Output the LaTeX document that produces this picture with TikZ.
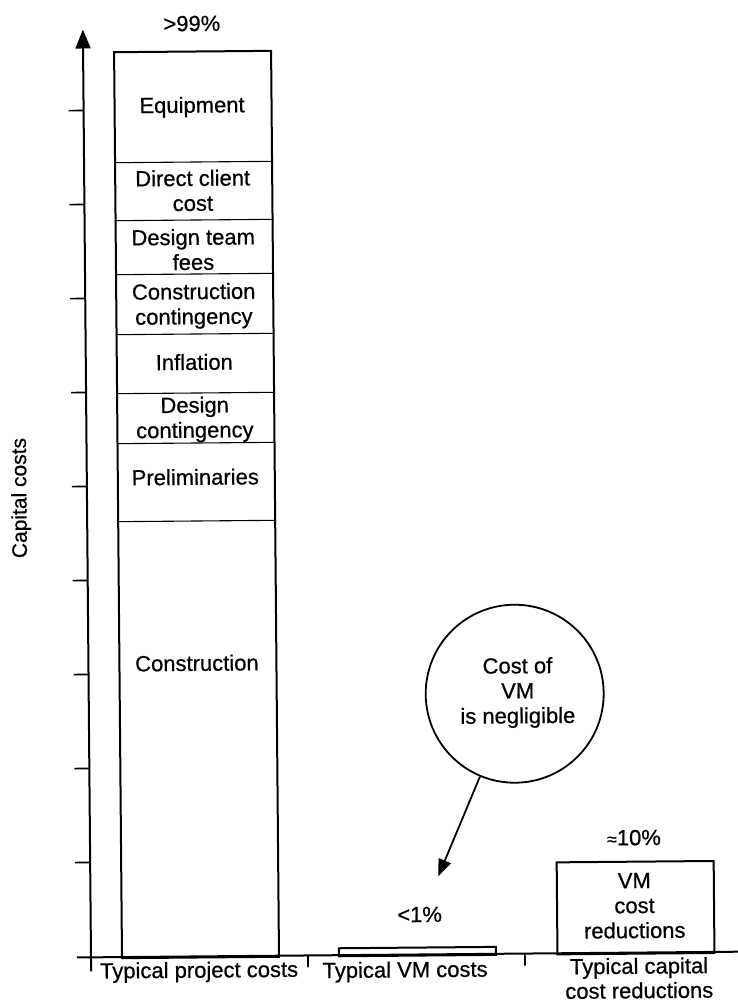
\documentclass[tikz,border=0pt]{standalone}
\usepackage{fontspec}
\setmainfont{Liberation Sans}[FakeBold=0.6]
\usetikzlibrary{arrows.meta}
\begin{document}
\begin{tikzpicture}[x=1pt,y=-1pt,
  axisline/.style={line width=2pt},
  barbox/.style={draw, line width=2pt, rectangle, inner sep=0pt, anchor=north west},
  divider/.style={line width=1.1pt},
  tickmark/.style={line width=1.6pt},
  lbl/.style={font=\fontsize{22}{25}\selectfont, align=center, inner sep=0pt},
  bubble/.style={draw, circle, line width=1.8pt, minimum size=178pt, inner sep=0pt},
  pointer/.style={line width=1.8pt, -{Triangle[length=17pt,width=13pt]}}]
\useasboundingbox (0,0) rectangle (737,1003);
\begin{scope}[rotate around={0.5:(368,500)}, transform shape]
  % axes
  \coordinate (ybase) at (87,969);
  \coordinate (ytop) at (87,27);
  \coordinate (xleft) at (73,955);
  \coordinate (xright) at (745,955);
  \draw[axisline, -{Triangle[length=19pt,width=15pt]}] (ybase) -- (ytop);
  \draw[axisline] (xleft) -- (xright);
  \foreach \t in {108,202,296,390,484,578,672,766,860}
    \draw[tickmark] (72,\t) -- (87,\t);
  \coordinate (sepA) at (304,955);
  \coordinate (sepB) at (521,955);
  \draw[tickmark] (sepA) -- ++(0,12);
  \draw[tickmark] (sepB) -- ++(0,12);
  \node[lbl, font=\fontsize{21}{24}\selectfont, rotate=90] (ylab) at (21,495) {Capital costs};

  % project cost bar and its parts
  \node[barbox, minimum width=157pt, minimum height=906pt] (bar1) at (117,49) {};
  \foreach \d in {160.5,218.5,272.5,332.5,391.5,441.5,519.5}
    \draw[divider] (bar1.west |- 0,\d) -- (bar1.east |- 0,\d);
  \node[lbl] (top1) at (196,22) {>99\%};
  \node[lbl] (equip) at (195.5,105.5) {Equipment};
  \node[lbl] (client) at (195.5,189) {Direct client\\cost};
  \node[lbl] (fees) at (195.5,248) {Design team\\fees};
  \node[lbl] (ccont) at (195.5,304.5) {Construction\\contingency};
  \node[lbl] (infl) at (195.5,360.5) {Inflation};
  \node[lbl] (dcont) at (195.5,418) {Design\\contingency};
  \node[lbl] (prelim) at (195.5,475.5) {Preliminaries};
  \node[lbl] (constr) at (195.5,661.5) {Construction};

  % VM cost bar
  \node[barbox, minimum width=157pt, minimum height=8pt] (bar2) at (334,947) {};
  \node[lbl] (top2) at (416,915) {<1\%};

  % savings bar
  \node[barbox, minimum width=157pt, minimum height=92pt] (bar3) at (552.5,863) {};
  \node[lbl] (save) at (631,908) {VM\\cost\\reductions};
  \node[lbl] (top3) at (631,840) {{\fontsize{18}{18}\selectfont ≈}10\%};

  % category labels
  \node[lbl] (cat1) at (195,970.5) {Typical project costs};
  \node[lbl] (cat2) at (401,972) {Typical VM costs};
  \node[lbl, font=\fontsize{22}{24.5}\selectfont] (cat3) at (635,980.5) {Typical capital\\cost reductions};

  % callout
  \node[bubble] (note) at (513,695) {};
  \node[lbl] (notetxt) at (516,694) {Cost of\\VM\\is negligible};
  \coordinate (tip) at (435,877);
  \draw[pointer] (note) -- (tip);
\end{scope}
\end{tikzpicture}
\end{document}
